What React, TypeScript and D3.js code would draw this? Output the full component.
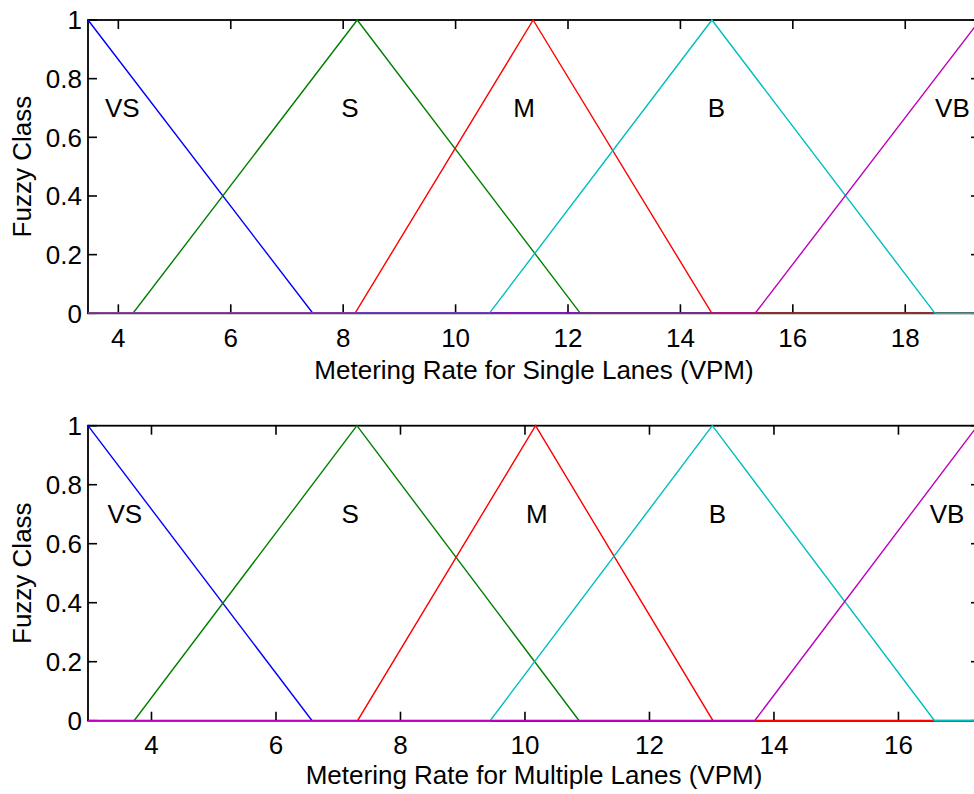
import React from "react";
import * as d3 from "d3";

// ---- Data ----
const classNames = ["VS", "S", "M", "B", "VB"];
const seriesColors = ["#0000ff", "#008000", "#ff0000", "#00bfbf", "#bf00bf"];
const yTicks = [0, 0.2, 0.4, 0.6, 0.8, 1];
const yTickLabels = ["0", "0.2", "0.4", "0.6", "0.8", "1"];

// Single lanes: [start, peak, end] for each class
const singleDomain = [3.46, 19.33];
const singleVS = [-0.54, 3.46, 7.46];
const singleS = [4.26, 8.25, 12.22];
const singleM = [8.21, 11.38, 14.56];
const singleB = [10.6, 14.56, 18.53];
const singleVB = [15.33, 19.33, 23.33];
const singleTicks = [4, 6, 8, 10, 12, 14, 16, 18];
const singleLabelX = [4.07, 8.12, 11.22, 14.64, 18.84];

// Multiple lanes
const multiDomain = [2.98, 17.31];
const multiVS = [-0.62, 2.98, 6.58];
const multiS = [3.72, 7.3, 10.87];
const multiM = [7.31, 10.17, 13.02];
const multiB = [9.44, 13.01, 16.58];
const multiVB = [13.69, 17.27, 20.85];
const multiTicks = [4, 6, 8, 10, 12, 14, 16];
const multiLabelX = [3.57, 7.19, 10.19, 13.09, 16.78];

const labelY = 0.67;

const FONT = "'Liberation Sans', Arial, Helvetica, sans-serif";

type PanelProps = {
  id: string;
  top: number;
  bottom: number;
  left: number;
  right: number;
  domain: number[];
  series: number[][];
  ticks: number[];
  labelX: number[];
  title: string;
  titleOffset: number;
  tickOffset: number;
};

function Panel(p: PanelProps) {
  const x = d3.scaleLinear().domain(p.domain).range([p.left, p.right]);
  const y = d3.scaleLinear().domain([0, 1]).range([p.bottom, p.top]);
  const line = d3
    .line<[number, number]>()
    .x((d) => x(d[0]))
    .y((d) => y(d[1]));
  const tl = 9;
  const fs = 26;
  return (
    <g>
      <defs>
        <clipPath id={p.id}>
          <rect x={p.left} y={p.top - 2} width={p.right - p.left} height={p.bottom - p.top + 4} />
        </clipPath>
      </defs>
      {/* box */}
      <rect x={p.left} y={p.top} width={p.right - p.left} height={p.bottom - p.top} fill="none" stroke="#000" strokeWidth={1.8} />
      {/* x ticks */}
      {p.ticks.map((t) => (
        <g key={"x" + t}>
          <line x1={x(t)} x2={x(t)} y1={p.bottom} y2={p.bottom - tl} stroke="#000" strokeWidth={1.6} />
          <line x1={x(t)} x2={x(t)} y1={p.top} y2={p.top + tl} stroke="#000" strokeWidth={1.6} />
          <text x={x(t)} y={p.bottom + p.tickOffset} fontSize={fs} fontFamily={FONT} textAnchor="middle" fill="#000">
            {t}
          </text>
        </g>
      ))}
      {/* y ticks */}
      {yTicks.map((t, i) => (
        <g key={"y" + t}>
          <line x1={p.left} x2={p.left + tl} y1={y(t)} y2={y(t)} stroke="#000" strokeWidth={1.6} />
          <line x1={p.right} x2={p.right - tl} y1={y(t)} y2={y(t)} stroke="#000" strokeWidth={1.6} />
          <text x={p.left - 6} y={y(t)} dy="0.36em" fontSize={fs} fontFamily={FONT} textAnchor="end" fill="#000">
            {yTickLabels[i]}
          </text>
        </g>
      ))}
      {/* series */}
      <g clipPath={`url(#${p.id})`}>
        {p.series.map((s, i) => {
          const pts: [number, number][] = [];
          if (p.domain[0] < s[0]) pts.push([p.domain[0], 0]);
          pts.push([s[0], 0], [s[1], 1], [s[2], 0]);
          if (p.domain[1] > s[2]) pts.push([p.domain[1], 0]);
          return <path key={i} d={line(pts) || ""} fill="none" stroke={seriesColors[i]} strokeWidth={1.4} />;
        })}
      </g>
      {/* class labels */}
      {classNames.map((c, i) => (
        <text key={c} x={x(p.labelX[i])} y={y(labelY)} fontSize={fs} fontFamily={FONT} textAnchor="middle" fill="#000">
          {c}
        </text>
      ))}
      {/* axis titles */}
      <text x={(p.left + 982) / 2 - 1} y={p.bottom + p.titleOffset} fontSize={fs} fontFamily={FONT} textAnchor="middle" fill="#000">
        {p.title}
      </text>
      <text
        transform={`translate(31,${(p.top + p.bottom) / 2}) rotate(-90)`}
        fontSize={fs}
        fontFamily={FONT}
        textAnchor="middle"
        fill="#000"
      >
        Fuzzy Class
      </text>
    </g>
  );
}

export default function App() {
  return (
    <>
      <style>{`html,body{margin:0;padding:0;overflow:hidden;background:#fff}`}</style>
      <svg width={974} height={794} style={{ display: "block" }}>
        <rect width={974} height={794} fill="#fff" />
        <Panel
          id="clipTop"
          top={20}
          bottom={313.3}
          left={88}
          right={980}
          domain={singleDomain}
          series={[singleVS, singleS, singleM, singleB, singleVB]}
          ticks={singleTicks}
          labelX={singleLabelX}
          title="Metering Rate for Single Lanes (VPM)"
          titleOffset={65.5}
          tickOffset={34}
        />
        <Panel
          id="clipBottom"
          top={425.7}
          bottom={720.7}
          left={88}
          right={980}
          domain={multiDomain}
          series={[multiVS, multiS, multiM, multiB, multiVB]}
          ticks={multiTicks}
          labelX={multiLabelX}
          title="Metering Rate for Multiple Lanes (VPM)"
          titleOffset={63.5}
          tickOffset={33.5}
        />
      </svg>
    </>
  );
}
